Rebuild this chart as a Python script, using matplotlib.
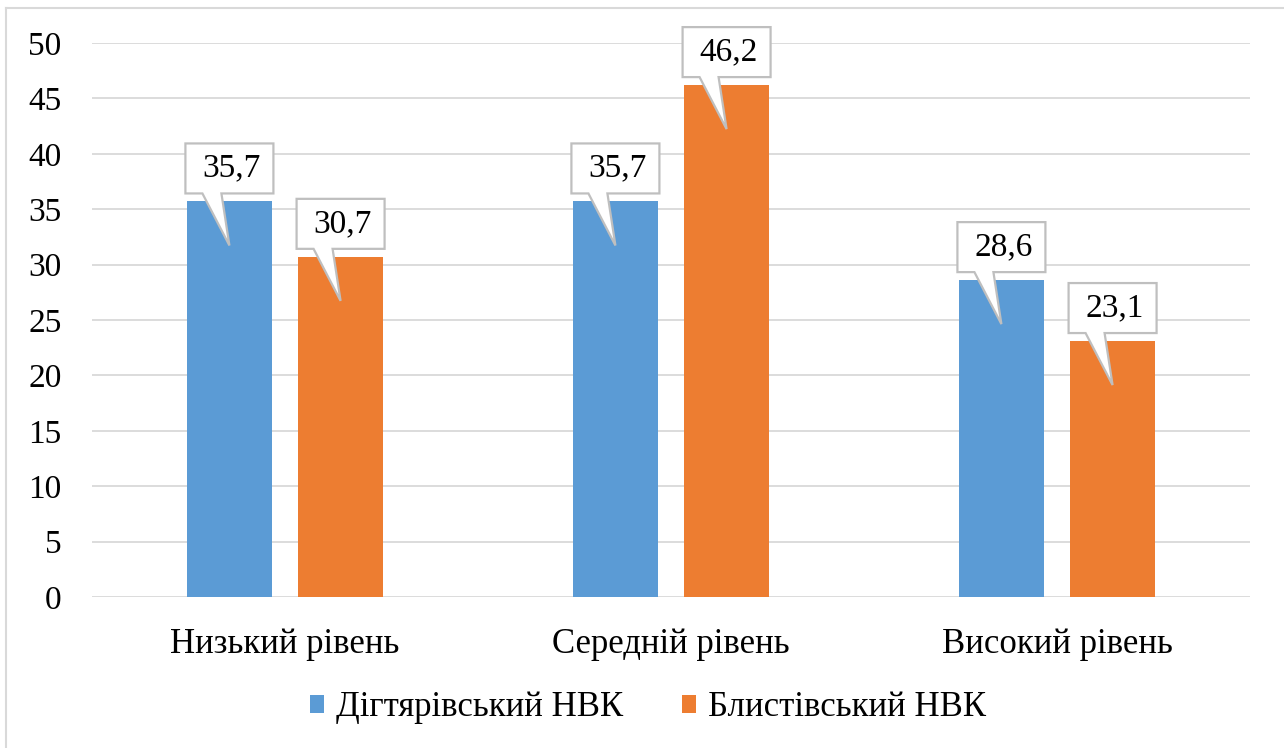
import matplotlib.pyplot as plt
from matplotlib.patches import Patch, PathPatch
from matplotlib.path import Path
from matplotlib.lines import Line2D
from matplotlib.transforms import Affine2D, ScaledTranslation
import numpy as np

plt.rcParams['font.family'] = ['Liberation Serif', 'DejaVu Serif']

categories = ['Низький рівень', 'Середній рівень', 'Високий рівень']
series_names = ['Дігтярівський НВК', 'Блистівський НВК']
dihtiarivskyi = [35.7, 35.7, 28.6]
blystivskyi = [30.7, 46.2, 23.1]
y_ticks = [0, 5, 10, 15, 20, 25, 30, 35, 40, 45, 50]

colors = ['#5B9BD5', '#ED7D31']
W, H = 1284, 748

fig = plt.figure(figsize=(W / 100, H / 100), dpi=100)
ax = fig.add_axes([92 / W, (H - 597) / H, (1250 - 92) / W, (597 - 43) / H])

x = np.arange(len(categories))
bar_w = 0.222
offset = 0.144
ax.bar(x - offset, dihtiarivskyi, bar_w, color=colors[0], zorder=2)
ax.bar(x + offset, blystivskyi, bar_w, color=colors[1], zorder=2)

ax.set_xlim(-0.5, len(categories) - 0.5)
ax.set_ylim(0, 50)
ax.set_yticks(y_ticks)
ax.set_yticklabels([str(t) for t in y_ticks])
ax.set_xticks(x)
ax.set_xticklabels(categories)
ax.tick_params(axis='y', length=0, pad=22, labelsize=24)
ax.tick_params(axis='x', length=0, pad=22, labelsize=25)
ax.yaxis.grid(True, color='#d9d9d9', linewidth=1.3, zorder=0)
ax.set_axisbelow(True)
for s in ax.spines.values():
    s.set_visible(False)


# speech-bubble label pointing down into the bar (offsets in pixels)
def callout(xc, val):
    tr = Affine2D().scale(fig.dpi / 100) + ScaledTranslation(xc, val, ax.transData)
    verts = [(-44, 8), (-27, 8), (0, -44), (-8, 8), (44, 8), (44, 58), (-44, 58), (-44, 8)]
    codes = [Path.MOVETO] + [Path.LINETO] * 6 + [Path.CLOSEPOLY]
    ax.add_patch(PathPatch(Path(verts, codes), transform=tr, facecolor='white',
                           edgecolor='#bfbfbf', linewidth=1.6, zorder=4, clip_on=False))
    ax.text(2, 33, f'{val:.1f}'.replace('.', ','), transform=tr, ha='center', va='center',
            fontsize=24, color='black', zorder=5)


for i in range(len(categories)):
    callout(x[i] - offset, dihtiarivskyi[i])
    callout(x[i] + offset, blystivskyi[i])

handles = [Patch(facecolor=c, edgecolor='none') for c in colors]
fig.legend(handles, series_names, loc='center', bbox_to_anchor=(648 / W, (H - 708) / H),
           ncol=2, frameon=False, fontsize=25, handlelength=0.4, handleheight=0.4,
           handletextpad=0.35, columnspacing=1.7)

# outer chart border (left and top edges)
fig.add_artist(Line2D([6 / W, 6 / W], [0, (H - 8) / H], color='#d9d9d9', linewidth=1.5))
fig.add_artist(Line2D([6 / W, 1], [(H - 8) / H, (H - 8) / H], color='#d9d9d9', linewidth=1.5))

fig.savefig('out.png', dpi=100, facecolor='white')
